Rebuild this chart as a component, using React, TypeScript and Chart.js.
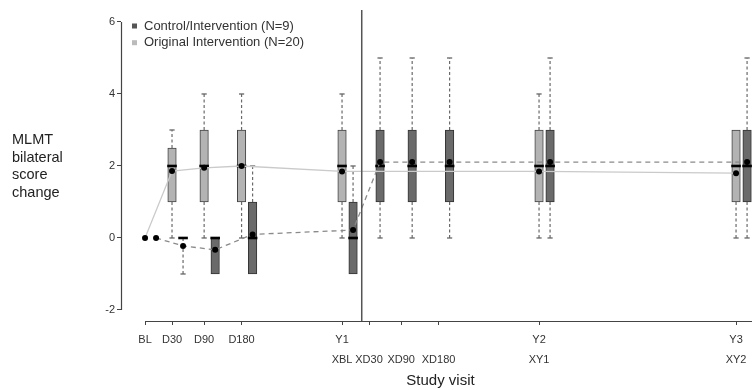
import React, { useEffect, useRef } from "react";
import { Chart, registerables } from "chart.js";

Chart.register(...registerables);

// ---------- data ----------
// axis position of each visit (display scale, 1 unit = 1 year)
const visitPos = { BL: 0, D30: 0.137, D90: 0.3, D180: 0.49, Y1: 1, XD30: 1.137, XD90: 1.3, XD180: 1.49, Y2: 2, Y3: 3 };

const tickPositions = [0, 0.137, 0.3, 0.49, 1, 1.137, 1.3, 1.49, 2, 3];
const tickLabels: (string | string[])[] = [
  "BL", "D30", "D90", "D180", ["Y1", "XBL"], ["", "XD30"], ["", "XD90"], ["", "XD180"], ["Y2", "XY1"], ["Y3", "XY2"],
];
const yTicks = [-2, 0, 2, 4, 6];

const crossoverX = 1.1;

const seriesNames = ["Control/Intervention (N=9)", "Original Intervention (N=20)"];

// Original Intervention (N=20)
const origVisits = ["BL", "D30", "D90", "D180", "Y1", "Y2", "Y3"];
const origMean = [0, 1.86, 1.95, 2.0, 1.85, 1.85, 1.8];
const origBoxVisits = ["D30", "D90", "D180", "Y1", "Y2", "Y3"];
const origLo = [0, 0, 0, 0, 0, 0];
const origQ1 = [1, 1, 1, 1, 1, 1];
const origMed = [2, 2, 2, 2, 2, 2];
const origQ3 = [2.5, 3, 3, 3, 3, 3];
const origHi = [3, 4, 4, 4, 4, 3];

// Control/Intervention (N=9)
const ctrlVisits = ["BL", "D30", "D90", "D180", "Y1", "XD30", "XD90", "XD180", "Y2", "Y3"];
const ctrlMean = [0, -0.22, -0.33, 0.1, 0.22, 2.11, 2.11, 2.11, 2.11, 2.11];
const ctrlBoxVisits = ["D30", "D90", "D180", "Y1", "XD30", "XD90", "XD180", "Y2", "Y3"];
const ctrlLo = [-1, -1, -1, -1, 0, 0, 0, 0, 0];
const ctrlQ1 = [0, -1, -1, -1, 1, 1, 1, 1, 1];
const ctrlMed = [0, 0, 0, 0, 2, 2, 2, 2, 2];
const ctrlQ3 = [0, 0, 1, 1, 3, 3, 3, 3, 3];
const ctrlHi = [0, 0, 2, 2, 5, 5, 5, 5, 5];

const ctrlOffset = 0.056;

// ---------- helpers ----------
const px = (v: string, off: number) => (visitPos as any)[v] + off;

function whiskerSegments(visits: string[], off: number, lo: number[], q1: number[], q3: number[], hi: number[]) {
  const out: any[] = [];
  visits.forEach((v, i) => {
    const x = px(v, off);
    if (hi[i] > q3[i]) out.push({ x, y: q3[i] }, { x, y: hi[i] }, { x, y: null });
    if (lo[i] < q1[i]) out.push({ x, y: q1[i] }, { x, y: lo[i] }, { x, y: null });
  });
  return out;
}
function caps(visits: string[], off: number, lo: number[], q1: number[], q3: number[], hi: number[]) {
  const out: any[] = [];
  visits.forEach((v, i) => {
    const x = px(v, off);
    if (hi[i] > q3[i]) out.push({ x, y: hi[i] });
    if (lo[i] < q1[i]) out.push({ x, y: lo[i] });
  });
  return out;
}

const decorPlugin = {
  id: "decor",
  afterDraw(chart: any) {
    const { ctx, chartArea, scales } = chart;
    const xs = scales.x, ys = scales.y;
    ctx.save();
    ctx.strokeStyle = "#444";
    ctx.lineWidth = 1.2;
    // y axis line
    const yl = Math.round(chartArea.left) + 0.5;
    ctx.beginPath();
    ctx.moveTo(yl, ys.getPixelForValue(yTicks[yTicks.length - 1]));
    ctx.lineTo(yl, ys.getPixelForValue(yTicks[0]));
    ctx.stroke();
    // x axis line
    const xb = Math.round(chartArea.bottom) + 0.5;
    ctx.beginPath();
    ctx.moveTo(xs.getPixelForValue(tickPositions[0]), xb);
    ctx.lineTo(chartArea.right, xb);
    ctx.stroke();
    // crossover divider
    ctx.strokeStyle = "#555";
    ctx.lineWidth = 1.5;
    const dx = xs.getPixelForValue(crossoverX);
    ctx.beginPath();
    ctx.moveTo(dx, chartArea.top);
    ctx.lineTo(dx, chartArea.bottom);
    ctx.stroke();

    // legend
    ctx.font = "13px 'Liberation Sans', Arial, sans-serif";
    ctx.textBaseline = "middle";
    ctx.textAlign = "left";
    const lx = chartArea.left + 11;
    const colors = ["#555", "#bbb"];
    seriesNames.forEach((name, i) => {
      const cy = 26 + i * 16.7;
      ctx.fillStyle = colors[i];
      ctx.fillRect(lx, cy - 2.5, 5, 5);
      ctx.fillStyle = "#333";
      ctx.fillText(name, lx + 12, cy);
    });

    // y title
    ctx.font = "14.5px 'Liberation Sans', Arial, sans-serif";
    ctx.fillStyle = "#222";
    ["MLMT", "bilateral", "score", "change"].forEach((t, i) => {
      ctx.fillText(t, 12, 140 + i * 17.7);
    });

    // x title
    ctx.font = "15px 'Liberation Sans', Arial, sans-serif";
    ctx.textAlign = "center";
    ctx.fillText("Study visit", (chartArea.left + chartArea.right) / 2 + 4, 381);
    ctx.restore();
  },
};

export default function App() {
  const ref = useRef<HTMLCanvasElement>(null);
  useEffect(() => {
    const boxCommon = {
      type: "bar" as const,
      stack: "box",
      barThickness: 8.5,
      borderWidth: 1,
      borderSkipped: false,
    };
    const chart = new Chart(ref.current!, {
      type: "bar",
      data: {
        datasets: [
          {
            type: "line",
            label: "orig-mean",
            data: origVisits.map((v, i) => ({ x: px(v, 0), y: origMean[i] })),
            borderColor: "#cacaca",
            borderWidth: 1.3,
            pointRadius: 3,
            pointBackgroundColor: "#000",
            pointBorderColor: "#000",
            pointBorderWidth: 0,
            tension: 0,
            order: 0,
          } as any,
          {
            type: "line",
            label: "ctrl-mean",
            data: ctrlVisits.map((v, i) => ({ x: px(v, ctrlOffset), y: ctrlMean[i] })),
            borderColor: "#8a8a8a",
            borderWidth: 1.3,
            borderDash: [5, 4],
            pointRadius: 3,
            pointBackgroundColor: "#000",
            pointBorderColor: "#000",
            pointBorderWidth: 0,
            tension: 0,
            order: 1,
          } as any,
          {
            type: "line",
            label: "medians",
            data: [
              ...origBoxVisits.map((v, i) => ({ x: px(v, 0), y: origMed[i] })),
              ...ctrlBoxVisits.map((v, i) => ({ x: px(v, ctrlOffset), y: ctrlMed[i] })),
            ],
            showLine: false,
            pointStyle: "line",
            pointRadius: 4.8,
            pointBorderWidth: 2.6,
            pointBorderColor: "#000",
            order: 2,
          } as any,
          {
            ...boxCommon,
            label: seriesNames[1],
            data: origBoxVisits.map((v, i) => ({ x: px(v, 0), y: [origQ1[i], origQ3[i]] })),
            backgroundColor: "#b3b3b3",
            borderColor: "#444",
            order: 3,
          } as any,
          {
            ...boxCommon,
            label: seriesNames[0],
            data: ctrlBoxVisits.map((v, i) => ({ x: px(v, ctrlOffset), y: [ctrlQ1[i], ctrlQ3[i]] })),
            backgroundColor: "#6a6a6a",
            borderColor: "#333",
            order: 4,
          } as any,
          {
            type: "line",
            label: "caps",
            data: [
              ...caps(origBoxVisits, 0, origLo, origQ1, origQ3, origHi),
              ...caps(ctrlBoxVisits, ctrlOffset, ctrlLo, ctrlQ1, ctrlQ3, ctrlHi),
            ],
            showLine: false,
            pointStyle: "line",
            pointRadius: 2.6,
            pointBorderWidth: 1.3,
            pointBorderColor: "#666",
            order: 5,
          } as any,
          {
            type: "line",
            label: "whiskers",
            data: [
              ...whiskerSegments(origBoxVisits, 0, origLo, origQ1, origQ3, origHi),
              ...whiskerSegments(ctrlBoxVisits, ctrlOffset, ctrlLo, ctrlQ1, ctrlQ3, ctrlHi),
            ],
            borderColor: "#6a6a6a",
            borderWidth: 1.2,
            borderDash: [3, 2.5],
            pointRadius: 0,
            spanGaps: false,
            order: 6,
          } as any,
        ],
      },
      options: {
        animation: false,
        responsive: true,
        maintainAspectRatio: false,
        layout: { autoPadding: false, padding: { top: 10, left: 0, right: 0, bottom: 0 } },
        plugins: { legend: { display: false }, tooltip: { enabled: false } },
        scales: {
          x: {
            type: "linear",
            offset: false,
            min: -0.122,
            max: 3.081,
            afterFit: (s: any) => { s.height = 69; },
            afterBuildTicks: (s: any) => { s.ticks = tickPositions.map((v) => ({ value: v })); },
            ticks: {
              autoSkip: false,
              maxRotation: 0,
              padding: 5,
              color: "#333",
              font: { family: "'Liberation Sans', Arial, sans-serif", size: 11, lineHeight: "20px" },
              callback: (_v: any, i: number) => tickLabels[i],
            },
            grid: { display: true, offset: false, drawOnChartArea: false, drawTicks: true, tickLength: 4, color: "#444", lineWidth: 1 },
            border: { display: false },
          },
          y: {
            type: "linear",
            min: -2.306,
            max: 6.333,
            afterFit: (s: any) => { s.width = 121; },
            afterBuildTicks: (s: any) => { s.ticks = yTicks.map((v) => ({ value: v })); },
            ticks: {
              padding: 2,
              color: "#333",
              font: { family: "'Liberation Sans', Arial, sans-serif", size: 11 },
            },
            grid: { display: true, drawOnChartArea: false, drawTicks: true, tickLength: 4, color: "#444", lineWidth: 1 },
            border: { display: false },
          },
        },
      } as any,
      plugins: [decorPlugin],
    });
    return () => chart.destroy();
  }, []);
  return (
    <div style={{ position: "absolute", left: 0, top: 0, width: 752, height: 390, background: "#fff" }}>
      <canvas ref={ref} />
    </div>
  );
}
